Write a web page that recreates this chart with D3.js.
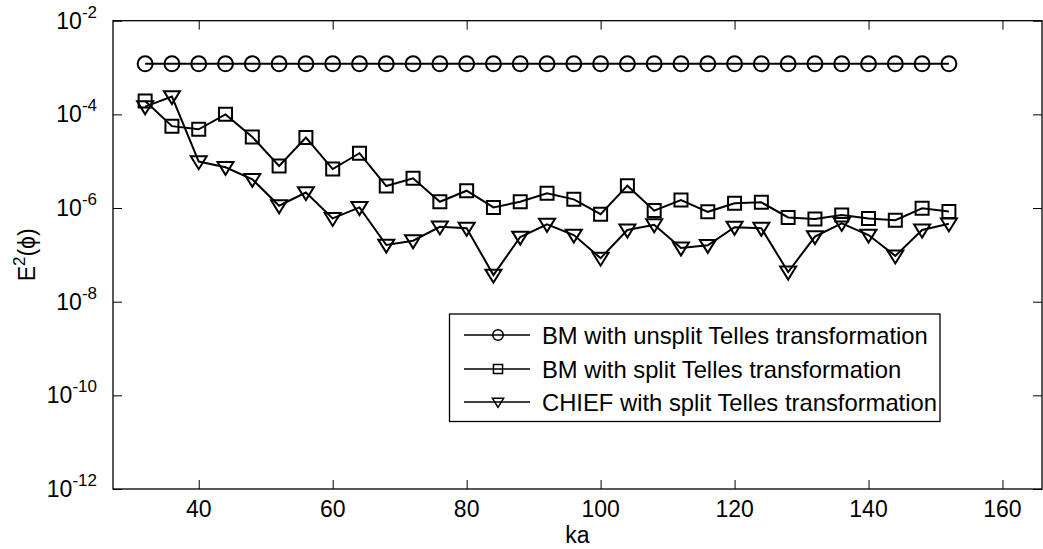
<!DOCTYPE html>
<html>
<head>
<meta charset="utf-8">
<script src="https://cdn.jsdelivr.net/npm/d3@7"></script>
<style>
  html, body { margin: 0; padding: 0; background: #fff; }
  svg { display: block; }
</style>
</head>
<body>
<div id="chart"></div>
<script>
// data
const ka = [32, 36, 40, 44, 48, 52, 56, 60, 64, 68, 72, 76, 80, 84, 88, 92,
            96, 100, 104, 108, 112, 116, 120, 124, 128, 132, 136, 140, 144, 148, 152];
const bmUnsplit = [1.2e-3, 1.2e-3, 1.2e-3, 1.2e-3, 1.2e-3, 1.2e-3, 1.2e-3, 1.2e-3,
                   1.2e-3, 1.2e-3, 1.2e-3, 1.2e-3, 1.2e-3, 1.2e-3, 1.2e-3, 1.2e-3,
                   1.2e-3, 1.2e-3, 1.2e-3, 1.2e-3, 1.2e-3, 1.2e-3, 1.2e-3, 1.2e-3,
                   1.2e-3, 1.2e-3, 1.2e-3, 1.2e-3, 1.2e-3, 1.2e-3, 1.2e-3];
const bmSplit = [1.93e-4, 5.6e-5, 4.8e-5, 1.0e-4, 3.3e-5, 7.9e-6, 3.2e-5, 6.8e-6,
                 1.48e-5, 2.95e-6, 4.3e-6, 1.36e-6, 2.34e-6, 1.03e-6, 1.36e-6, 2.06e-6,
                 1.53e-6, 7.4e-7, 3.0e-6, 8.8e-7, 1.48e-6, 8.3e-7, 1.26e-6, 1.32e-6,
                 6.3e-7, 5.8e-7, 7.1e-7, 6.0e-7, 5.5e-7, 9.9e-7, 8.4e-7];
const chiefSplit = [1.46e-4, 2.4e-4, 9.8e-6, 7.4e-6, 4.1e-6, 1.12e-6, 2.14e-6, 6.0e-7,
                    1.03e-6, 1.62e-7, 2.0e-7, 3.96e-7, 3.7e-7, 3.7e-8, 2.4e-7, 4.5e-7,
                    2.65e-7, 8.5e-8, 3.4e-7, 4.4e-7, 1.4e-7, 1.6e-7, 3.9e-7, 3.7e-7,
                    4.3e-8, 2.46e-7, 4.7e-7, 2.65e-7, 9.5e-8, 3.4e-7, 4.6e-7];
const seriesNames = ["BM with unsplit Telles transformation",
                     "BM with split Telles transformation",
                     "CHIEF with split Telles transformation"];
const xTicks = [40, 60, 80, 100, 120, 140, 160];
const yTickExps = [-2, -4, -6, -8, -10, -12];

const width = 1043, height = 549;
const plot = { left: 113, right: 1042, top: 20.7, bottom: 489 };
const font = "'Liberation Sans', Arial, Helvetica, sans-serif";
const fs = 23;

const svg = d3.select("#chart").append("svg")
    .attr("width", width).attr("height", height)
    .attr("viewBox", `0 0 ${width} ${height}`);

const x = d3.scaleLinear().domain([27.2, 165.9]).range([plot.left, plot.right]);
const y = d3.scaleLog().domain([1e-12, 1e-2]).range([plot.bottom, plot.top]);

// axes box with inward ticks
const tickLen = 9;
const styleAxis = g => {
    g.select(".domain").remove();
    g.selectAll(".tick line").attr("stroke", "#000").attr("stroke-width", 1);
    g.selectAll(".tick text").remove();
};
svg.append("g").attr("transform", `translate(0,${plot.bottom})`)
    .call(d3.axisBottom(x).tickValues(xTicks).tickSize(-tickLen)).call(styleAxis);
svg.append("g").attr("transform", `translate(0,${plot.top})`)
    .call(d3.axisTop(x).tickValues(xTicks).tickSize(-tickLen)).call(styleAxis);
svg.append("g").attr("transform", `translate(${plot.left},0)`)
    .call(d3.axisLeft(y).tickValues(yTickExps.map(e => Math.pow(10, e))).tickSize(-tickLen)).call(styleAxis);
svg.append("g").attr("transform", `translate(${plot.right},0)`)
    .call(d3.axisRight(y).tickValues(yTickExps.map(e => Math.pow(10, e))).tickSize(-tickLen)).call(styleAxis);

svg.append("rect")
    .attr("x", plot.left).attr("y", plot.top)
    .attr("width", plot.right - plot.left).attr("height", plot.bottom - plot.top)
    .attr("fill", "none").attr("stroke", "#000").attr("stroke-width", 1.3);

// tick labels
svg.append("g").selectAll("text").data(xTicks).enter().append("text")
    .attr("x", d => x(d)).attr("y", 517)
    .attr("text-anchor", "middle")
    .style("font-family", font).style("font-size", fs + "px")
    .text(d => d);

const yLab = svg.append("g").selectAll("text").data(yTickExps).enter().append("text")
    .attr("x", 97).attr("y", d => y(Math.pow(10, d)) + 8)
    .attr("text-anchor", "end")
    .style("font-family", font).style("font-size", fs + "px");
yLab.append("tspan").text("10");
yLab.append("tspan").attr("dy", -11).style("font-size", "17px").text(d => "-" + Math.abs(d));

// axis titles
svg.append("text")
    .attr("x", (plot.left + plot.right) / 2).attr("y", 543)
    .attr("text-anchor", "middle")
    .style("font-family", font).style("font-size", fs + "px")
    .text("ka");

const yTitle = svg.append("text")
    .attr("transform", `translate(35,${(plot.top + plot.bottom) / 2}) rotate(-90)`)
    .attr("text-anchor", "middle")
    .style("font-family", font).style("font-size", fs + "px");
yTitle.append("tspan").text("E");
yTitle.append("tspan").attr("dy", -10).style("font-size", "17px").text("2");
yTitle.append("tspan").attr("dy", 10).text("(\u03d5)");

// markers
const markerPath = (type, s) => {
    if (type === "circle") return d3.symbol(d3.symbolCircle, Math.PI * s * s)();
    if (type === "square") return `M${-s},${-s}H${s}V${s}H${-s}Z`;
    const h = s * 0.9;
    return `M${-s},${-h * 0.75}L${s},${-h * 0.75}L0,${h * 1.05}Z`;
};

const series = [
    { name: seriesNames[0], values: bmUnsplit, marker: "circle", size: 7.5 },
    { name: seriesNames[1], values: bmSplit, marker: "square", size: 6.5 },
    { name: seriesNames[2], values: chiefSplit, marker: "triangle", size: 8 }
];

const line = d3.line().x(d => x(d[0])).y(d => y(d[1]));

series.forEach(s => {
    const pts = ka.map((k, i) => [k, s.values[i]]);
    const g = svg.append("g");
    g.append("path").datum(pts).attr("d", line)
        .attr("fill", "none").attr("stroke", "#000").attr("stroke-width", 2);
    g.selectAll("path.mark").data(pts).enter().append("path")
        .attr("class", "mark")
        .attr("transform", d => `translate(${x(d[0])},${y(d[1])})`)
        .attr("d", markerPath(s.marker, s.size))
        .attr("fill", "none").attr("stroke", "#000").attr("stroke-width", 2);
});

// legend
const legend = svg.append("g");
legend.append("rect")
    .attr("x", 449.5).attr("y", 314).attr("width", 490.5).attr("height", 107.5)
    .attr("fill", "#fff").attr("stroke", "#000").attr("stroke-width", 1.3);
const rowY = [335, 369, 402];
series.forEach((s, i) => {
    const g = legend.append("g").attr("transform", `translate(0,${rowY[i]})`);
    g.append("line").attr("x1", 464).attr("x2", 530).attr("y1", 0).attr("y2", 0)
        .attr("stroke", "#000").attr("stroke-width", 1.5);
    g.append("path").attr("transform", "translate(498,0)")
        .attr("d", markerPath(s.marker, s.size * 0.7))
        .attr("fill", "none").attr("stroke", "#000").attr("stroke-width", 1.5);
    g.append("text").attr("x", 542).attr("y", 8.5)
        .style("font-family", font).style("font-size", "23.8px")
        .text(s.name);
});
</script>
</body>
</html>
